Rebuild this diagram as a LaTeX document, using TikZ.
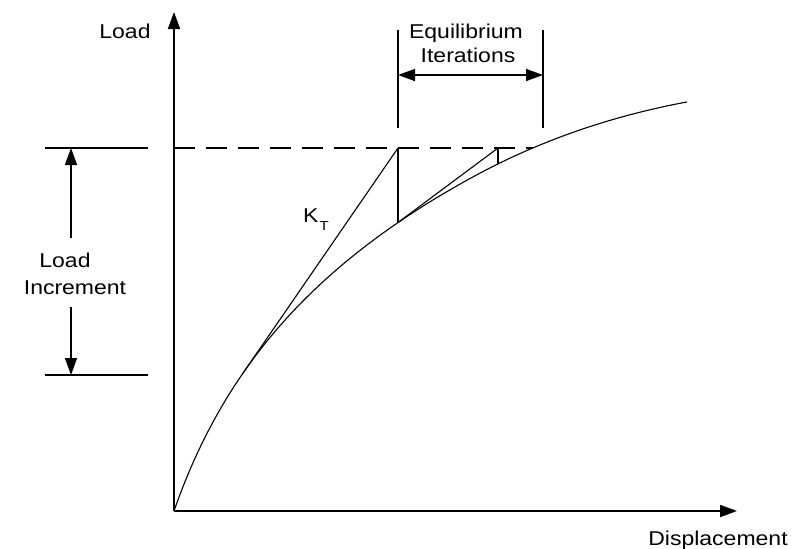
\documentclass[tikz,border=0pt]{standalone}
\usepackage{fontspec}
\setmainfont{Liberation Sans}[FakeStretch=1.15]
\usetikzlibrary{arrows.meta}
\begin{document}
\begin{tikzpicture}[x=1pt,y=-1pt,
  lbl/.style={inner sep=0pt, anchor=base, font=\fontsize{20}{24}\selectfont},
  ax/.style={line width=1.8pt},
  dim/.style={line width=1.5pt},
  fine/.style={line width=1.1pt},
  tip/.style={-{Triangle[length=17pt,width=12pt]}},
  tips/.style={{Triangle[length=17pt,width=12pt]}-{Triangle[length=17pt,width=12pt]}},
  dashline/.style={line width=1.5pt, dash pattern=on 21pt off 11pt}]
\useasboundingbox (0,0) rectangle (793,549);
% key points
\coordinate (O) at (174,511);
\coordinate (Ytop) at (174,12);
\coordinate (Xend) at (737,511);
\coordinate (P1) at (398,148);
\coordinate (C1) at (398,222.5);
\coordinate (P2) at (498,148);
\coordinate (C2) at (498,163.9);
\coordinate (T) at (242.4,374);
\coordinate (D) at (533,148);
% axes
\draw[ax,tip] (O) -- (Ytop);
\draw[ax,tip] (O) -- (Xend);
% load-displacement curve
\draw[fine] plot[domain=0:513, samples=120, smooth]
  ({174+\x},{511-(201*ln(1+\x/70) - 0.0375*pow(max(\x-300,0)/10,2))});
% dashed load level
\draw[dashline] (O |- P1) -- (D);
% tangent stiffness and iterations
\draw[fine] (T) -- (P1);
\draw[dim] (P1) -- (C1);
\draw[fine] (C1) -- (P2);
\draw[dim] (P2) -- (C2);
% load increment dimension
\coordinate (LT1) at (45,148);
\coordinate (LT2) at (148,148);
\coordinate (LB1) at (45,375);
\coordinate (LB2) at (148,375);
\draw[dim] (LT1) -- (LT2);
\draw[dim] (LB1) -- (LB2);
\coordinate (A1s) at (71,238);
\coordinate (A1e) at (71,148);
\coordinate (A2s) at (71,307);
\coordinate (A2e) at (71,375);
\draw[dim,tip] (A1s) -- (A1e);
\draw[dim,tip] (A2s) -- (A2e);
% equilibrium iterations dimension
\coordinate (E1t) at (398,30);
\coordinate (E1b) at (398,128);
\coordinate (E2t) at (543,30);
\coordinate (E2b) at (543,128);
\draw[dim] (E1t) -- (E1b);
\draw[dim] (E2t) -- (E2b);
\coordinate (EA1) at (398,75);
\coordinate (EA2) at (543,75);
\draw[dim,tips] (EA1) -- (EA2);
% labels
\node[lbl] (load) at (125,38) {Load};
\node[lbl] (disp) at (718,545) {Displacement};
\node[lbl] (eq1) at (466,38) {Equilibrium};
\node[lbl] (eq2) at (468,62) {Iterations};
\node[lbl] (li1) at (65,267) {Load};
\node[lbl] (li2) at (75,294) {Increment};
\node[lbl, anchor=base west] (kt) at (303,222) {K\kern1pt\raisebox{-8pt}{\fontsize{13}{13}\selectfont T}};
\end{tikzpicture}
\end{document}
